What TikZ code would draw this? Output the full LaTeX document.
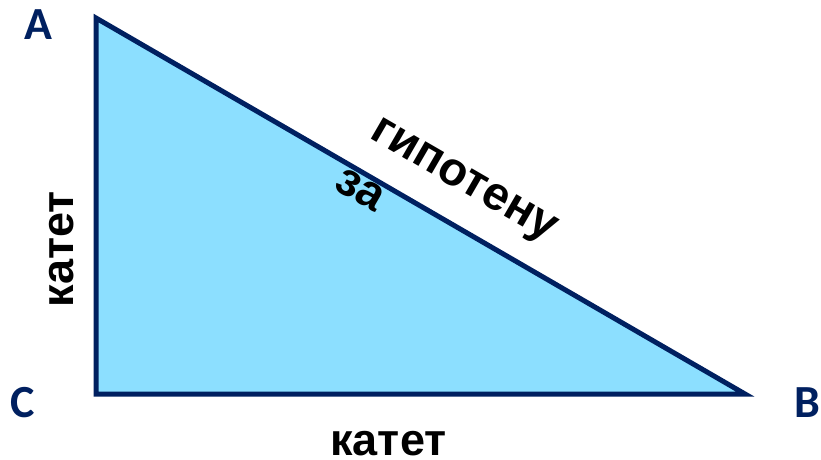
\documentclass[tikz,border=0pt]{standalone}
\usepackage{fontspec}
\setmainfont{Liberation Sans}
\newfontfamily\vertexfont{Carlito}
\definecolor{TriNavy}{HTML}{002060}
\definecolor{TriSky}{HTML}{8CDFFF}

\begin{document}
\begin{tikzpicture}[x=1pt,y=-1pt,
    every node/.style={inner sep=0pt,font=\bfseries\fontsize{45}{45}\selectfont}]
  \tikzset{vertex/.style={text=TriNavy,font=\vertexfont\bfseries\fontsize{46}{46}\selectfont},
    sidelabel/.style={text=black},
    hyplabel/.style={text=black,rotate=-30.08,font=\bfseries\fontsize{47}{47}\selectfont}}
  \useasboundingbox (0,0) rectangle (821,459);
  % vertices
  \coordinate (A) at (96,18);
  \coordinate (C) at (96,394);
  \coordinate (B) at (745,394);
  \filldraw[fill=TriSky,draw=TriNavy,line width=5pt] (A) -- (B) -- (C) -- cycle;
  \node[vertex] (la) at (38.5,24.5) {A};
  \node[vertex] (lc) at (23,403) {C};
  \node[vertex] (lb) at (807.5,402.5) {B};
  % sides
  \node[sidelabel,rotate=90] (leg1) at (61.5,249) {катет};
  \node[sidelabel] (leg2) at (388.5,443.5) {катет};
  \node[hyplabel] (hyp1) at (462,183) {гипотену};
  \node[hyplabel] (hyp2) at (360,190) {за};
\end{tikzpicture}
\end{document}
